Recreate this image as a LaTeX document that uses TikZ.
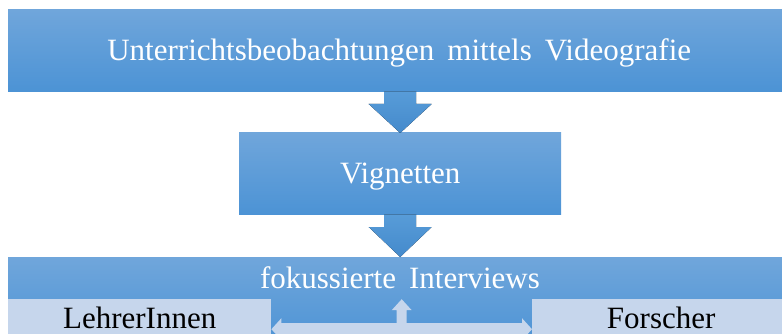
\documentclass[tikz,border=0pt]{standalone}
\usepackage{fontspec}
\setmainfont{Liberation Serif}
\usetikzlibrary{positioning,calc}
\definecolor{boxtop}{RGB}{112,166,219}
\definecolor{boxbot}{RGB}{76,147,213}
\definecolor{lightbox}{RGB}{198,214,236}
\definecolor{arrowtop}{RGB}{88,156,216}
\definecolor{arrowbot}{RGB}{68,138,204}
\def\bigfont{\fontsize{31}{37}\selectfont\spaceskip=0.42em plus 0.1em\relax}
\tikzstyle{bluebox} = [rectangle, draw=none, top color=boxtop, bottom color=boxbot, text=white, font=\bigfont, text height=21pt, text depth=0pt, inner sep=0pt]
\tikzstyle{greybox} = [rectangle, draw=none, fill=lightbox, text=black, font=\bigfont, text height=21pt, text depth=9pt, inner sep=0pt]
\tikzstyle{blockarrow} = [draw=none, top color=arrowtop, bottom color=arrowbot]
\tikzstyle{lightarrow} = [draw=none, fill=lightbox]

\begin{document}
\begin{tikzpicture}[x=1pt,y=-1pt]
\useasboundingbox (0,0) rectangle (782,334);
\clip (0,0) rectangle (782,334);
% boxes
\node[bluebox, minimum width=782pt, minimum height=82pt, anchor=north west] (video) at (8,9) {Unterrichtsbeobachtungen mittels Videografie};
\node[bluebox, minimum width=322pt, minimum height=82pt, anchor=north west] (vign) at (239,132) {Vignetten};
\node[bluebox, minimum width=782pt, minimum height=90pt, anchor=north west] (interv) at (8,257) {};
\node[text=white, font=\bigfont, inner sep=0pt, anchor=base] (intervtxt) at (400,288) {fokussierte Interviews};
\node[greybox, minimum width=263pt, minimum height=46pt, anchor=north west] (lehrer) at (8,299) {LehrerInnen};
\node[greybox, minimum width=258pt, minimum height=46pt, anchor=north west] (forscher) at (532,299) {Forscher};
% arrows
\fill[blockarrow] ($(video.south -| vign.north)+(-16,0)$) -- ($(vign.north)+(-16,-28)$) -- ($(vign.north)+(-31.5,-28)$) -- ($(vign.north)+(0,1)$) -- ($(vign.north)+(31.5,-28)$) -- ($(vign.north)+(16,-28)$) -- ($(video.south -| vign.north)+(16,0)$) -- cycle;
\fill[blockarrow] ($(vign.south)+(-16,0)$) -- ($(interv.north -| vign.south)+(-16,-30)$) -- ($(interv.north -| vign.south)+(-31.5,-30)$) -- (interv.north -| vign.south) -- ($(interv.north -| vign.south)+(31.5,-30)$) -- ($(interv.north -| vign.south)+(16,-30)$) -- ($(vign.south)+(16,0)$) -- cycle;
\coordinate (dl) at ($(lehrer.east)+(0,7)$);
\coordinate (dr) at ($(forscher.west)+(0,7)$);
\coordinate (up) at ($(dl)!0.5!(dr)+(0,-30)$);
\fill[lightarrow] (dl) -- ++(10,-11) -- ++(0,5) -- ($(up)+(-5,24)$) -- ++(0,-13) -- ++(-5,0) -- (up) -- ++(10,11) -- ++(-5,0) -- ++(0,13) -- ($(dr)+(-10,-6)$) -- ++(0,-5) -- (dr) -- ++(-10,11) -- ++(0,-5) -- ($(dl)+(10,6)$) -- ++(0,5) -- cycle;
\end{tikzpicture}
\end{document}
